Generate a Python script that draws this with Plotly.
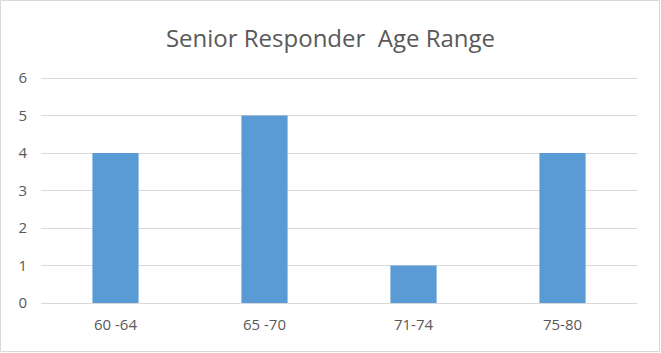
import plotly.graph_objects as go

categories = ["60 -64", "65 -70", "71-74", "75-80"]
counts = [4, 5, 1, 4]
y_ticks = [0, 1, 2, 3, 4, 5, 6]

W, H = 661, 353
L, R, T, B = 41, 24, 77, 50
pw, ph = W - L - R, H - T - B

fig = go.Figure(go.Bar(x=categories, y=counts, marker_color="#5b9bd5", marker_line_width=0))

fig.update_layout(
    width=W, height=H,
    margin=dict(l=L, r=R, t=T, b=B),
    paper_bgcolor="white", plot_bgcolor="white",
    bargap=0.69,
    showlegend=False,
    font=dict(family="Open Sans, Liberation Sans, sans-serif", color="#595959", size=15),
    title=dict(text="Senior Responder\u00a0 Age Range", x=0.5, xanchor="center",
               y=1 - 39 / H, yanchor="middle", xref="container", yref="container",
               font=dict(size=24, color="#595959")),
    xaxis=dict(showgrid=False, showline=True, linecolor="#d9d9d9", linewidth=1,
               ticks="", ticklabelstandoff=8, tickfont=dict(size=15, color="#595959")),
    yaxis=dict(range=[0, 6.03], tickvals=y_ticks, showgrid=True, gridcolor="#d9d9d9",
               gridwidth=1, zeroline=False, showline=False, ticks="",
               ticklabelstandoff=13, tickfont=dict(size=15, color="#595959")),
    shapes=[dict(type="rect", xref="paper", yref="paper",
                 x0=(0.5 - L) / pw, x1=(W - 1.5 - L) / pw,
                 y0=(H - B - (H - 1.5)) / ph, y1=(H - B - 0.5) / ph,
                 line=dict(color="#d9d9d9", width=1), layer="below")],
)

fig.write_html("out.html")
